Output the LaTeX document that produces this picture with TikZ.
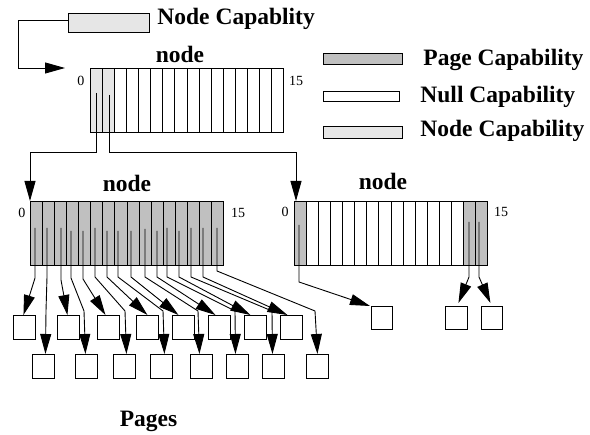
\documentclass[tikz,border=0pt]{standalone}
\usepackage{fontspec}
\setmainfont{Liberation Serif}
\usetikzlibrary{arrows.meta}
\definecolor{pagegray}{RGB}{192,192,192}
\definecolor{nodegray}{RGB}{230,230,230}
\begin{document}
\begin{tikzpicture}[x=1pt,y=-1pt,line width=0.9pt,
  cell/.style={draw,fill=white,inner sep=0,minimum width=12.0625pt,minimum height=64pt,anchor=north west},
  pagebox/.style={draw,fill=white,inner sep=0,minimum width=21.5pt,minimum height=24pt,anchor=north west},
  legbox/.style={draw,inner sep=0,anchor=north west},
  title/.style={font=\fontsize{23.5}{28}\selectfont\bfseries,inner sep=0},
  idx/.style={font=\fontsize{14}{16}\selectfont,inner sep=0},
  conn/.style={-{Triangle[length=20pt,width=11pt]}}]
\useasboundingbox (0,0) rectangle (590,435);

% ---- capability that points to the root node
\node[legbox,fill=nodegray,minimum width=81pt,minimum height=19pt] (capbox) at (68,13) {};
\node[title,anchor=base west] (captext) at (157,25) {Node Capablity};
\coordinate (capbend) at (18,68);
\coordinate (captip) at (65,68);
\draw[conn] ([yshift=2]capbox.west) -| (capbend) -- (captip);

% ---- legend
\node[legbox,fill=pagegray,minimum width=79pt,minimum height=11pt] (legpage) at (323,53) {};
\node[legbox,fill=white,minimum width=76pt,minimum height=10pt] (legnull) at (323,91) {};
\node[legbox,fill=nodegray,minimum width=79pt,minimum height=12pt] (legnode) at (323,126) {};
\node[title,anchor=base west] (legpagetext) at (423,66) {Page Capability};
\node[title,anchor=base west] (legnulltext) at (420,103) {Null Capability};
\node[title,anchor=base west] (legnodetext) at (420,137) {Node Capability};

% ---- root node (16 slots)
\foreach \i in {0,...,15} {
  \pgfmathsetmacro\cx{90+\i*12.0625}
  \node[cell] (T\i) at (\cx,68) {};
}
\node[cell,fill=nodegray] at (T0.north west) {};
\node[cell,fill=nodegray] at (T1.north west) {};
\node[title,anchor=base] (Ttitle) at (180,63) {node};
\node[idx] (Tlo) at (81,81) {0};
\node[idx] (Thi) at (296,81) {15};

% ---- left child node: every slot holds a page capability
\foreach \i in {0,...,15} {
  \pgfmathsetmacro\cx{30+\i*12.0625}
  \node[cell,fill=pagegray] (L\i) at (\cx,201) {};
}
\node[title,anchor=base] (Ltitle) at (127,192) {node};
\node[idx] (Llo) at (22,213) {0};
\node[idx] (Lhi) at (238,213) {15};

% ---- right child node
\foreach \i in {0,...,15} {
  \pgfmathsetmacro\cx{294+\i*12.0625}
  \node[cell] (R\i) at (\cx,201) {};
}
\node[cell,fill=pagegray] at (R0.north west) {};
\node[cell,fill=pagegray] at (R14.north west) {};
\node[cell,fill=pagegray] at (R15.north west) {};
\node[title,anchor=base] (Rtitle) at (383,190) {node};
\node[idx] (Rlo) at (285,212) {0};
\node[idx] (Rhi) at (501,212) {15};

% ---- pages
\foreach \k/\x in {1/13,2/57,3/97,4/136,5/172,6/208,7/244,8/280}
  \node[pagebox] (Pa\k) at (\x,315) {};
\foreach \k/\x in {1/32,2/75,3/113,4/150,5/190,6/226,7/262,8/306}
  \node[pagebox] (Pb\k) at (\x,354) {};
\node[pagebox,minimum width=21pt,minimum height=23pt] (Q1) at (371,306) {};
\node[pagebox,minimum width=22pt,minimum height=23pt] (Q2) at (445,306) {};
\node[pagebox,minimum width=21pt,minimum height=23pt] (Q3) at (481,306) {};
\node[title,anchor=base] (pages) at (148.5,427) {Pages};

% ---- root node to its children
\coordinate (ts0) at (96,93);
\coordinate (ts1) at (109,95);
\coordinate (tlevel) at (0,152);
\draw[conn] (ts0) -- (ts0 |- tlevel) -| (L0.north west);
\draw[conn] (ts1) -- (ts1 |- tlevel) -| ([xshift=2]R0.north west);

% ---- left node slots to pages: even slots to the upper row
\foreach \i/\x/\t/\b/\k/\d in {0/35/228/278/1/-0.75, 2/61/228/280/2/-0.75,
    4/83/231/279/3/-2.75, 6/107/231/277/4/0.25, 8/131/231/277/5/-4.75,
    10/157/231/277/6/-3.75, 12/179/231/277/7/-4.75, 14/203/228/277/8/-3.75} {
  \coordinate (Ls\i) at (\x,\t);
  \coordinate (Lb\i) at (\x,\b);
  \draw[conn] (Ls\i) -- (Lb\i) -- ([xshift=\d]Pa\k.north);
}
% odd slots to the lower row
\foreach \i/\x/\t/\b/\c/\k/\d in {1/47/228/277/46/1/2.25, 3/71/231/278/84/2/-0.75,
    5/95/228/277/125/3/2.25, 7/118/231/277/163/4/3.25, 9/145/229/277/198/5/-1.75,
    11/167/228/277/235/6/-1.75, 13/191/228/277/272/7/-0.75, 15/217/228/271/315/8/0.25} {
  \coordinate (Ls\i) at (\x,\t);
  \coordinate (Lb\i) at (\x,\b);
  \coordinate (Lc\i) at (\c,311);
  \draw[conn] (Ls\i) -- (Lb\i) -- (Lc\i) -- ([xshift=\d]Pb\k.north);
}

% ---- right node slots to pages
\coordinate (rs0) at (299,225);
\coordinate (rb0) at (299,282);
\coordinate (rs14) at (469,222);
\coordinate (rb14) at (469,277);
\coordinate (rs15) at (479,222);
\coordinate (rb15) at (479,277);
\draw[conn] (rs0) -- (rb0) -- ([xshift=-1]Q1.north west);
\draw[conn] (rs14) -- (rb14) -- ([xshift=2,yshift=3]Q2.north);
\draw[conn] (rs15) -- (rb15) -- ([xshift=-1.5,yshift=3]Q3.north);
\end{tikzpicture}
\end{document}
